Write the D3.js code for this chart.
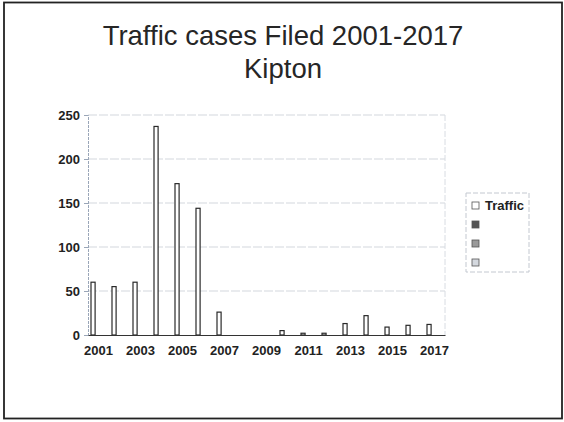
<!DOCTYPE html>
<html>
<head>
<meta charset="utf-8">
<script src="https://cdn.jsdelivr.net/npm/d3@7"></script>
<style>
  html, body { margin: 0; padding: 0; background: #fff; }
  svg { display: block; }
</style>
</head>
<body>
<svg id="chart" width="564" height="422"></svg>
<script>
// Data
const years = ["2001","2002","2003","2004","2005","2006","2007","2008","2009",
               "2010","2011","2012","2013","2014","2015","2016","2017"];
const traffic = [60, 55, 60, 237, 172, 144, 26, 0, 0, 5, 2, 2, 13, 22, 9, 11, 12];
const seriesNames = ["Traffic", "", "", ""];
const seriesFills = ["#ffffff", "#555555", "#9a9a9a", "#d4d8de"];
const yTicks = [0, 50, 100, 150, 200, 250];
const xTickLabels = ["2001","2003","2005","2007","2009","2011","2013","2015","2017"];

(function () {
const svg = d3.select("#chart");
const font = "'Liberation Sans', Arial, sans-serif";

// Outer frame
svg.append("rect")
  .attr("x", 4).attr("y", 2.5).attr("width", 558).attr("height", 416)
  .attr("fill", "none").attr("stroke", "#222").attr("stroke-width", 1.8);

// Title
const title = svg.append("text")
  .attr("text-anchor", "middle")
  .attr("font-family", font).attr("font-size", 27.5)
  .attr("fill", "#262626");
title.append("tspan").attr("x", 283).attr("y", 45).text("Traffic cases Filed 2001-2017");
title.append("tspan").attr("x", 283).attr("y", 78).text("Kipton");

// Plot area
const pLeft = 88, pRight = 445, pTop = 115, pBottom = 335;

const x0 = d3.scaleBand().domain(years).range([pLeft, pRight]).paddingInner(0).paddingOuter(0);
const x1 = d3.scaleBand().domain(d3.range(seriesNames.length))
  .range([2.5, 2.5 + 4 * 4.6]).padding(0);
const y = d3.scaleLinear().domain([0, 250]).range([pBottom, pTop]);

// Gridlines
svg.append("g")
  .selectAll("line")
  .data(yTicks.filter(d => d > 0))
  .join("line")
  .attr("x1", pLeft).attr("x2", pRight)
  .attr("y1", d => y(d)).attr("y2", d => y(d))
  .attr("stroke", "#d3d7dd").attr("stroke-width", 1)
  .attr("stroke-dasharray", "9,2");

// Right border of plot area
svg.append("line")
  .attr("x1", pRight).attr("x2", pRight).attr("y1", pTop).attr("y2", pBottom)
  .attr("stroke", "#d8dce2").attr("stroke-dasharray", "6,2");

// Y axis
const yAxis = d3.axisLeft(y).tickValues(yTicks).tickSize(4).tickPadding(4);
const gy = svg.append("g").attr("transform", `translate(${pLeft},0)`).call(yAxis);
gy.select(".domain").attr("stroke", "#9aa6b8").attr("stroke-dasharray", "3,1");
gy.selectAll(".tick line").attr("stroke", "#9aa6b8");
gy.selectAll(".tick text")
  .attr("font-family", font).attr("font-size", 13).attr("font-weight", "bold")
  .attr("fill", "#222");

// Bars (Traffic series)
svg.append("g")
  .selectAll("rect")
  .data(years.map((yr, i) => ({ yr, v: traffic[i] })))
  .join("rect")
  .attr("x", d => x0(d.yr) + x1(0) + 0.5)
  .attr("width", x1.bandwidth() - 0.5)
  .attr("y", d => y(d.v))
  .attr("height", d => y(0) - y(d.v))
  .attr("fill", seriesFills[0])
  .attr("stroke", "#2a2a2a").attr("stroke-width", 1.2);

// X axis
const xAxis = d3.axisBottom(x0).tickValues(xTickLabels).tickSize(0).tickPadding(11);
const gx = svg.append("g").attr("transform", `translate(0,${pBottom})`).call(xAxis);
gx.select(".domain").attr("stroke", "#333").attr("stroke-width", 1);
gx.selectAll(".tick text")
  .attr("font-family", font).attr("font-size", 13).attr("font-weight", "bold")
  .attr("fill", "#222");

// Legend
const lg = svg.append("g").attr("transform", "translate(466,193)");
lg.append("rect")
  .attr("width", 63).attr("height", 79)
  .attr("fill", "#fff").attr("stroke", "#c3c8d0").attr("stroke-dasharray", "5,2");
const items = lg.selectAll("g.item")
  .data(seriesNames)
  .join("g").attr("class", "item")
  .attr("transform", (d, i) => `translate(6,${9 + i * 19})`);
items.append("rect")
  .attr("width", 7).attr("height", 7)
  .attr("fill", (d, i) => seriesFills[i])
  .attr("stroke", "#555").attr("stroke-width", 0.8);
items.append("text")
  .attr("x", 13).attr("y", 7.5)
  .attr("font-family", font).attr("font-size", 13).attr("font-weight", "bold")
  .attr("fill", "#222")
  .text(d => d);
})();
</script>
</body>
</html>
